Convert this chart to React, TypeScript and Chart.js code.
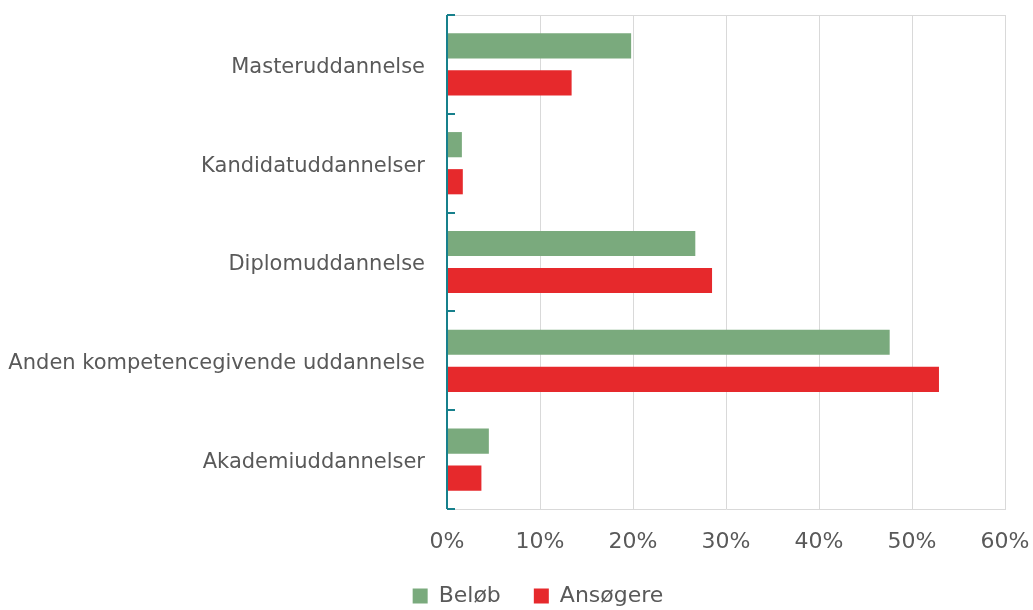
import React, { useEffect, useRef } from "react";
import { Chart, registerables } from "chart.js";

Chart.register(...registerables);

const categories = [
  "Masteruddannelse",
  "Kandidatuddannelser",
  "Diplomuddannelse",
  "Anden kompetencegivende uddannelse",
  "Akademiuddannelser",
];
const belob = [19.8, 1.6, 26.7, 47.6, 4.5];
const ansogere = [13.4, 1.7, 28.5, 52.9, 3.7];
const seriesNames = ["Beløb", "Ansøgere"];
const xTicksMax = 60;

const FONT = "'DejaVu Sans', Verdana, sans-serif";
const TEXT = "#595959";
const GRID = "#d9d9d9";
const TEAL = "#17808C";

const framePlugin = {
  id: "frame",
  afterLayout(chart: any) {
    if (chart.legend) {
      chart.legend.left = 43;
    }
  },
  beforeDatasetsDraw(chart: any) {
    const { ctx, chartArea } = chart;
    ctx.save();
    ctx.strokeStyle = GRID;
    ctx.lineWidth = 1;
    ctx.beginPath();
    ctx.moveTo(chartArea.left, chartArea.top + 0.5);
    ctx.lineTo(chartArea.right, chartArea.top + 0.5);
    ctx.stroke();
    ctx.restore();
  },
  afterDatasetsDraw(chart: any) {
    const { ctx, chartArea } = chart;
    const n = categories.length;
    const h = (chartArea.bottom - chartArea.top) / n;
    ctx.save();
    ctx.strokeStyle = TEAL;
    ctx.lineWidth = 2;
    ctx.beginPath();
    ctx.moveTo(chartArea.left, chartArea.top);
    ctx.lineTo(chartArea.left, chartArea.bottom);
    for (let i = 0; i <= n; i++) {
      const y = Math.round(chartArea.top + i * h);
      ctx.moveTo(chartArea.left, y);
      ctx.lineTo(chartArea.left + 8, y);
    }
    ctx.stroke();
    ctx.restore();
  },
};

export default function App() {
  const ref = useRef<HTMLCanvasElement | null>(null);
  useEffect(() => {
    if (!ref.current) return;
    const chart = new Chart(ref.current, {
      type: "bar",
      data: {
        labels: categories,
        datasets: [
          {
            label: seriesNames[0],
            data: belob,
            backgroundColor: "#7AAA7D",
            categoryPercentage: 0.75,
            barPercentage: 0.68,
          },
          {
            label: seriesNames[1],
            data: ansogere,
            backgroundColor: "#E6292C",
            categoryPercentage: 0.75,
            barPercentage: 0.68,
          },
        ],
      },
      options: {
        indexAxis: "y",
        animation: false,
        responsive: false,
        maintainAspectRatio: false,
        layout: { padding: { top: 15, right: 0, left: 0, bottom: -7 } },
        plugins: {
          tooltip: { enabled: false },
          legend: {
            position: "bottom",
            labels: {
              color: TEXT,
              font: { family: FONT, size: 22 },
              boxWidth: 15,
              boxHeight: 15,
              padding: 33,
            },
          },
        },
        scales: {
          x: {
            min: 0,
            max: xTicksMax,
            ticks: {
              stepSize: 10,
              color: TEXT,
              font: { family: FONT, size: 22 },
              padding: 20,
              maxRotation: 0,
              callback: (v: any) => v + "%",
            },
            grid: { color: GRID, drawTicks: false, lineWidth: 1 },
            border: { display: true, color: GRID },
            afterFit: (s: any) => {
              s.height = 43;
              s.paddingLeft = 0;
              s.paddingRight = 28;
            },
          },
          y: {
            ticks: {
              color: TEXT,
              font: { family: FONT, size: 21 },
              padding: 22,
              labelOffset: 3,
            },
            grid: { display: false, drawTicks: false },
            border: { display: false },
            afterFit: (s: any) => {
              s.width = 447;
              s.paddingTop = 0;
              s.paddingBottom = 0;
            },
          },
        },
      },
      plugins: [framePlugin],
    });
    return () => chart.destroy();
  }, []);
  return (
    <div style={{ position: "fixed", left: 0, top: 0, width: 1033, height: 610, background: "#fff" }}>
      <canvas ref={ref} width={1033} height={610} style={{ display: "block" }} />
    </div>
  );
}
